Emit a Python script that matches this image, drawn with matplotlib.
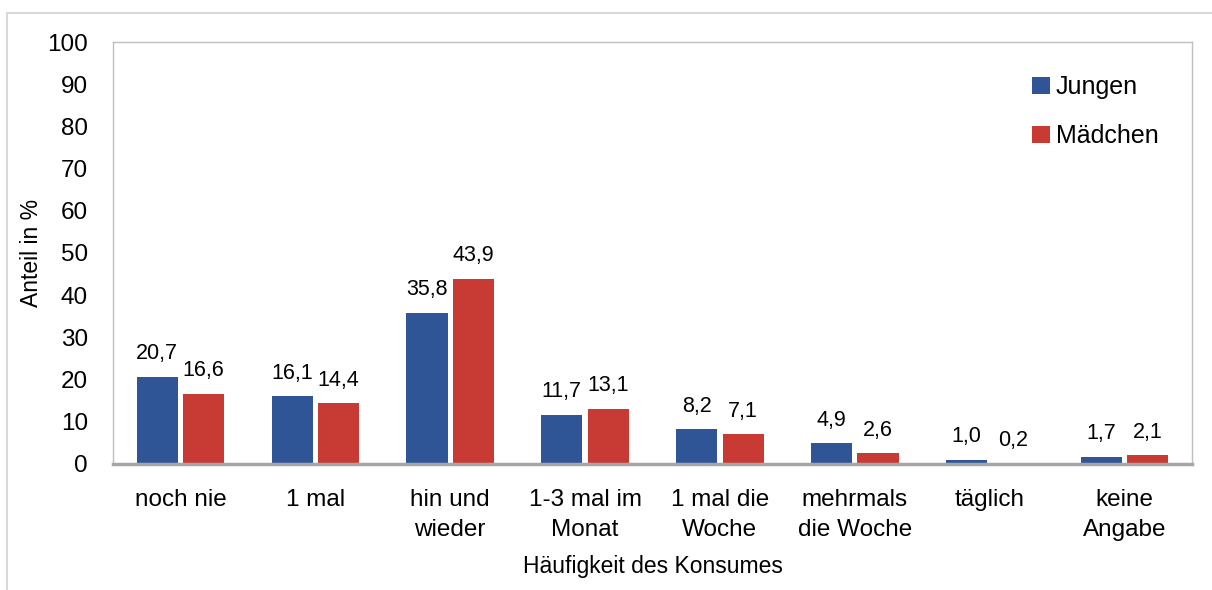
import numpy as np
import matplotlib.pyplot as plt
from matplotlib.lines import Line2D

plt.rcParams['font.family'] = ['Liberation Sans', 'DejaVu Sans']

# data
categories = ["noch nie", "1 mal", "hin und\nwieder", "1-3 mal im\nMonat",
              "1 mal die\nWoche", "mehrmals\ndie Woche", "täglich", "keine\nAngabe"]
jungen = [20.7, 16.1, 35.8, 11.7, 8.2, 4.9, 1.0, 1.7]
maedchen = [16.6, 14.4, 43.9, 13.1, 7.1, 2.6, 0.2, 2.1]

blue = "#2F5597"
red = "#C83B34"

fig = plt.figure(figsize=(12.12, 5.9), dpi=100)
ax = fig.add_axes([0.0932, 0.2136, 0.8903, 0.7152])

x = np.arange(len(categories)) + 0.5
w = 0.305
off = 0.172
b1 = ax.bar(x - off, jungen, w, color=blue, label="Jungen")
b2 = ax.bar(x + off, maedchen, w, color=red, label="Mädchen")

for bars, vals in ((b1, jungen), (b2, maedchen)):
    for rect, v in zip(bars, vals):
        ax.annotate(f"{v:.1f}".replace(".", ","),
                    (rect.get_x() + rect.get_width() / 2, v),
                    xytext=(0, 9), textcoords="offset points",
                    ha="center", va="bottom", fontsize=15.5)

ax.set_xlim(0, len(categories))
ax.set_ylim(0, 100)
ax.set_yticks(range(0, 101, 10))
ax.set_xticks(x)
ax.set_xticklabels(categories, linespacing=1.5)
ax.tick_params(axis="both", length=0, labelsize=17.5)
ax.tick_params(axis="y", pad=18)
ax.tick_params(axis="x", pad=18)

for s in ("left", "top", "right"):
    ax.spines[s].set_color("#bfbfbf")
    ax.spines[s].set_linewidth(1.0)
ax.spines["bottom"].set_color("#a6a6a6")
ax.spines["bottom"].set_linewidth(2.5)

fig.text(31 / 1212, 1 - 253 / 590, "Anteil in %", rotation=90,
         ha="center", va="center", fontsize=16.5)
ax.set_xlabel("Häufigkeit des Konsumes", fontsize=16.5, labelpad=10)

ax.legend(loc="upper right", bbox_to_anchor=(0.99, 0.975), frameon=False,
          fontsize=18, handlelength=0.7, handleheight=0.7, handletextpad=0.25,
          labelspacing=1.0)

# outer frame
fig.add_artist(Line2D([7 / 1212, 7 / 1212], [0, 1 - 13 / 590], color="#d9d9d9", lw=1.5))
fig.add_artist(Line2D([7 / 1212, 1], [1 - 13 / 590, 1 - 13 / 590], color="#d9d9d9", lw=1.5))

fig.savefig("out.png", dpi=100)
